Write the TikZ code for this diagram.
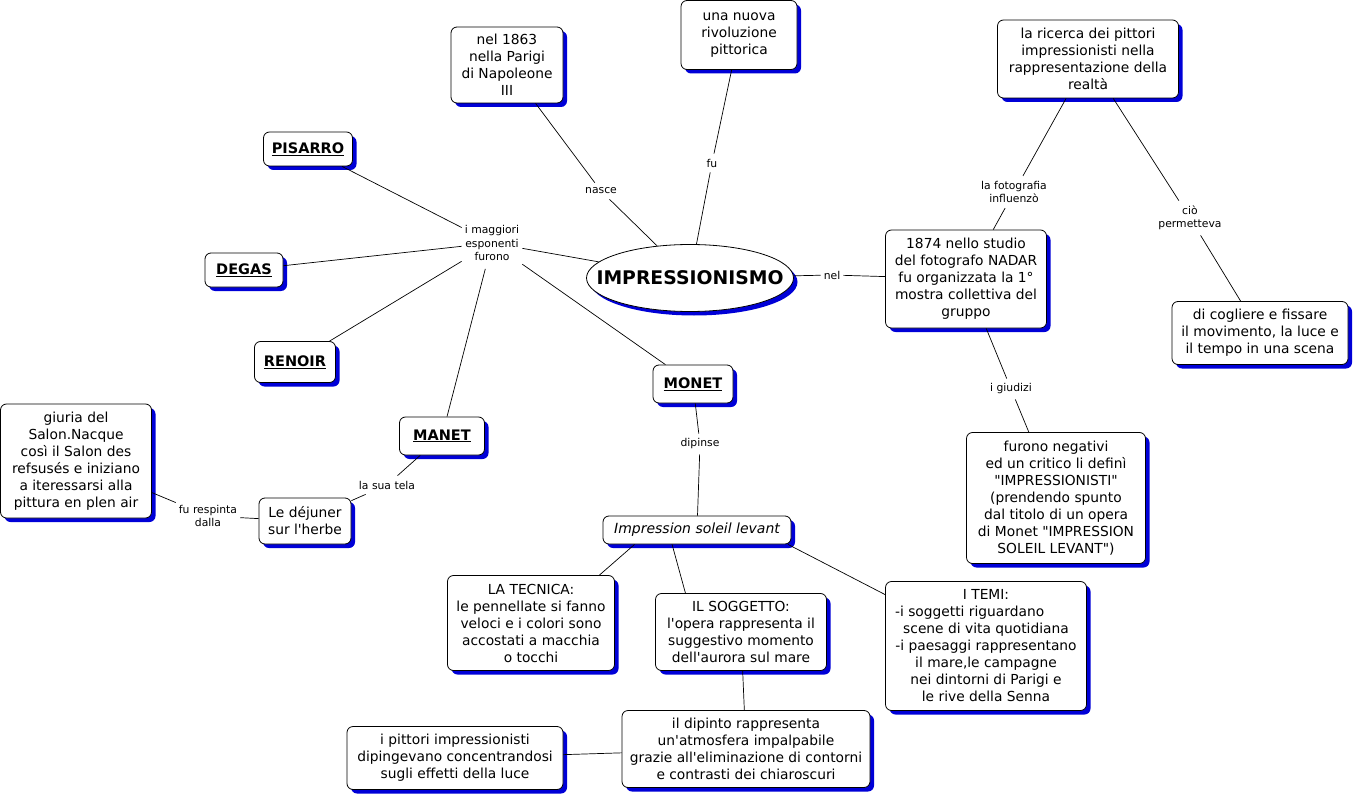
\documentclass[tikz,border=0pt]{standalone}
\usepackage{fontspec}
\setmainfont{DejaVu Sans}[Ligatures=TeXOff]
\usetikzlibrary{shapes.geometric,shadows}

\definecolor{cmapblue}{RGB}{0,0,215}

\tikzset{
  concept/.style={draw, line width=0.8pt, fill=white, rounded corners=6pt, align=center,
    inner sep=2pt, font=\fontsize{13.8}{17}\selectfont,
    drop shadow={shadow xshift=4pt, shadow yshift=-4pt, fill=cmapblue, opacity=1}},
  painter/.style={concept, font=\fontsize{14.5}{17}\selectfont\bfseries},
  linkword/.style={align=center, inner xsep=3pt, inner ysep=5pt, font=\fontsize{10.8}{13.5}\selectfont},
  link/.style={line width=0.7pt}
}

\begin{document}
\begin{tikzpicture}[x=1pt, y=-1pt]
  \useasboundingbox (0,0) rectangle (1355,797);

  \node[draw, line width=0.8pt, fill=white, ellipse, inner xsep=-22pt, inner ysep=0pt,
    minimum width=207, minimum height=67, font=\fontsize{18.8}{22}\selectfont\bfseries,
    drop shadow={shadow xshift=4pt, shadow yshift=-4pt, fill=cmapblue, opacity=1}] (impr) at (690,278) {IMPRESSIONISMO};

  \node[concept, minimum width=112, minimum height=76] (anno) at (507,65) {nel 1863\\nella Parigi\\di Napoleone\\III};
  \node[concept, minimum width=116, minimum height=69] (rivol) at (739,35) {una nuova\\rivoluzione\\pittorica};
  \node[concept, minimum width=181, minimum height=78] (ricerca) at (1088,59) {la ricerca dei pittori\\impressionisti nella\\rappresentazione della\\realtà};
  \node[concept, minimum width=161, minimum height=98] (nadar) at (966,279) {1874 nello studio\\del fotografo NADAR\\fu organizzata la 1°\\mostra collettiva del\\gruppo};
  \node[concept, minimum width=176, minimum height=63] (cogliere) at (1260,333) {di cogliere e fissare\\il movimento, la luce e\\il tempo in una scena};
  \node[concept, minimum width=179, minimum height=131] (negativi) at (1056,498) {furono negativi\\ed un critico li definì\\"IMPRESSIONISTI"\\(prendendo spunto\\dal titolo di un opera\\di Monet "IMPRESSION\\SOLEIL LEVANT")};

  \node[painter, minimum width=89, minimum height=34] (pisarro) at (308,149) {\underline{PISARRO}};
  \node[painter, minimum width=78, minimum height=34] (degas) at (244,270) {\underline{DEGAS}};
  \node[painter, minimum width=81, minimum height=41] (renoir) at (295,362) {\underline{RENOIR}};
  \node[painter, minimum width=85, minimum height=38] (manet) at (442,436) {\underline{MANET}};
  \node[painter, minimum width=80, minimum height=38] (monet) at (693,384) {\underline{MONET}};

  \node[concept, minimum width=151, minimum height=114] (giuria) at (76,461) {giuria del\\Salon.Nacque\\così il Salon des\\refsusés e iniziano\\a iteressarsi alla\\pittura en plen air};
  \node[concept, minimum width=92, minimum height=46] (dejuner) at (305,521) {Le déjuner\\sur l'herbe};
  \node[concept, minimum width=188, minimum height=28, font=\fontsize{14}{17}\selectfont\itshape] (soleil) at (697,530) {Impression soleil levant};
  \node[concept, minimum width=167, minimum height=95] (tecnica) at (531,623) {LA TECNICA:\\le pennellate si fanno\\veloci e i colori sono\\accostati a macchia\\o tocchi};
  \node[concept, minimum width=171, minimum height=77] (soggetto) at (741,632) {IL SOGGETTO:\\l'opera rappresenta il\\suggestivo momento\\dell'aurora sul mare};
  \node[concept, minimum width=201, minimum height=129] (temi) at (986,646) {I TEMI:\\-i soggetti riguardano\phantom{xxxx}\\scene di vita quotidiana\\-i paesaggi rappresentano\\il mare,le campagne\\nei dintorni di Parigi e\\le rive della Senna};
  \node[concept, minimum width=248, minimum height=77] (dipinto) at (746,749) {il dipinto rappresenta\\un'atmosfera impalpabile\\grazie all'eliminazione di contorni\\e contrasti dei chiaroscuri};
  \node[concept, minimum width=216, minimum height=63] (pittori) at (455,758) {i pittori impressionisti\\dipingevano concentrandosi\\sugli effetti della luce};

  \node[linkword] (nasce) at (601,191) {nasce};
  \node[linkword] (fu) at (712,163) {fu};
  \node[linkword, inner ysep=8pt] (esponenti) at (492,243) {i maggiori\\esponenti\\furono};
  \node[linkword] (nel) at (832,275) {nel};
  \node[linkword] (fotografia) at (1014,192) {la fotografia\\influenzò};
  \node[linkword] (permetteva) at (1190,218) {ciò\\permetteva};
  \node[linkword] (giudizi) at (1011,389) {i giudizi};
  \node[linkword] (dipinse) at (700,444) {dipinse};
  \node[linkword] (tela) at (387,485) {la sua tela};
  \node[linkword] (respinta) at (208,516) {fu respinta\\dalla};

  \draw[link] (anno) -- (nasce);
  \draw[link] (nasce) -- (impr);
  \draw[link] (rivol) -- (fu);
  \draw[link] (fu) -- (impr);
  \draw[link] (impr) -- (nel);
  \draw[link] (nel) -- (nadar);
  \draw[link] (ricerca) -- (fotografia);
  \draw[link] (fotografia) -- (nadar);
  \draw[link] (ricerca) -- (permetteva);
  \draw[link] (permetteva) -- (cogliere);
  \draw[link] (nadar) -- (giudizi);
  \draw[link] (giudizi) -- (negativi);
  \draw[link] (impr) -- (esponenti);
  \draw[link] (esponenti) -- (pisarro);
  \draw[link] (esponenti) -- (degas);
  \draw[link] (esponenti) -- (renoir);
  \draw[link] (esponenti) -- (manet);
  \draw[link] (esponenti) -- (monet);
  \draw[link] (manet) -- (tela);
  \draw[link] (tela) -- (dejuner);
  \draw[link] (dejuner) -- (respinta);
  \draw[link] (respinta) -- (giuria);
  \draw[link] (monet) -- (dipinse);
  \draw[link] (dipinse) -- (soleil);
  \draw[link] (soleil.193) -- (tecnica.35);
  \draw[link] (soleil.210) -- (soggetto.145);
  \draw[link] (soleil.-9) -- (temi.153);
  \draw[link] (soggetto) -- (dipinto);
  \draw[link] (dipinto) -- (pittori);
\end{tikzpicture}
\end{document}
